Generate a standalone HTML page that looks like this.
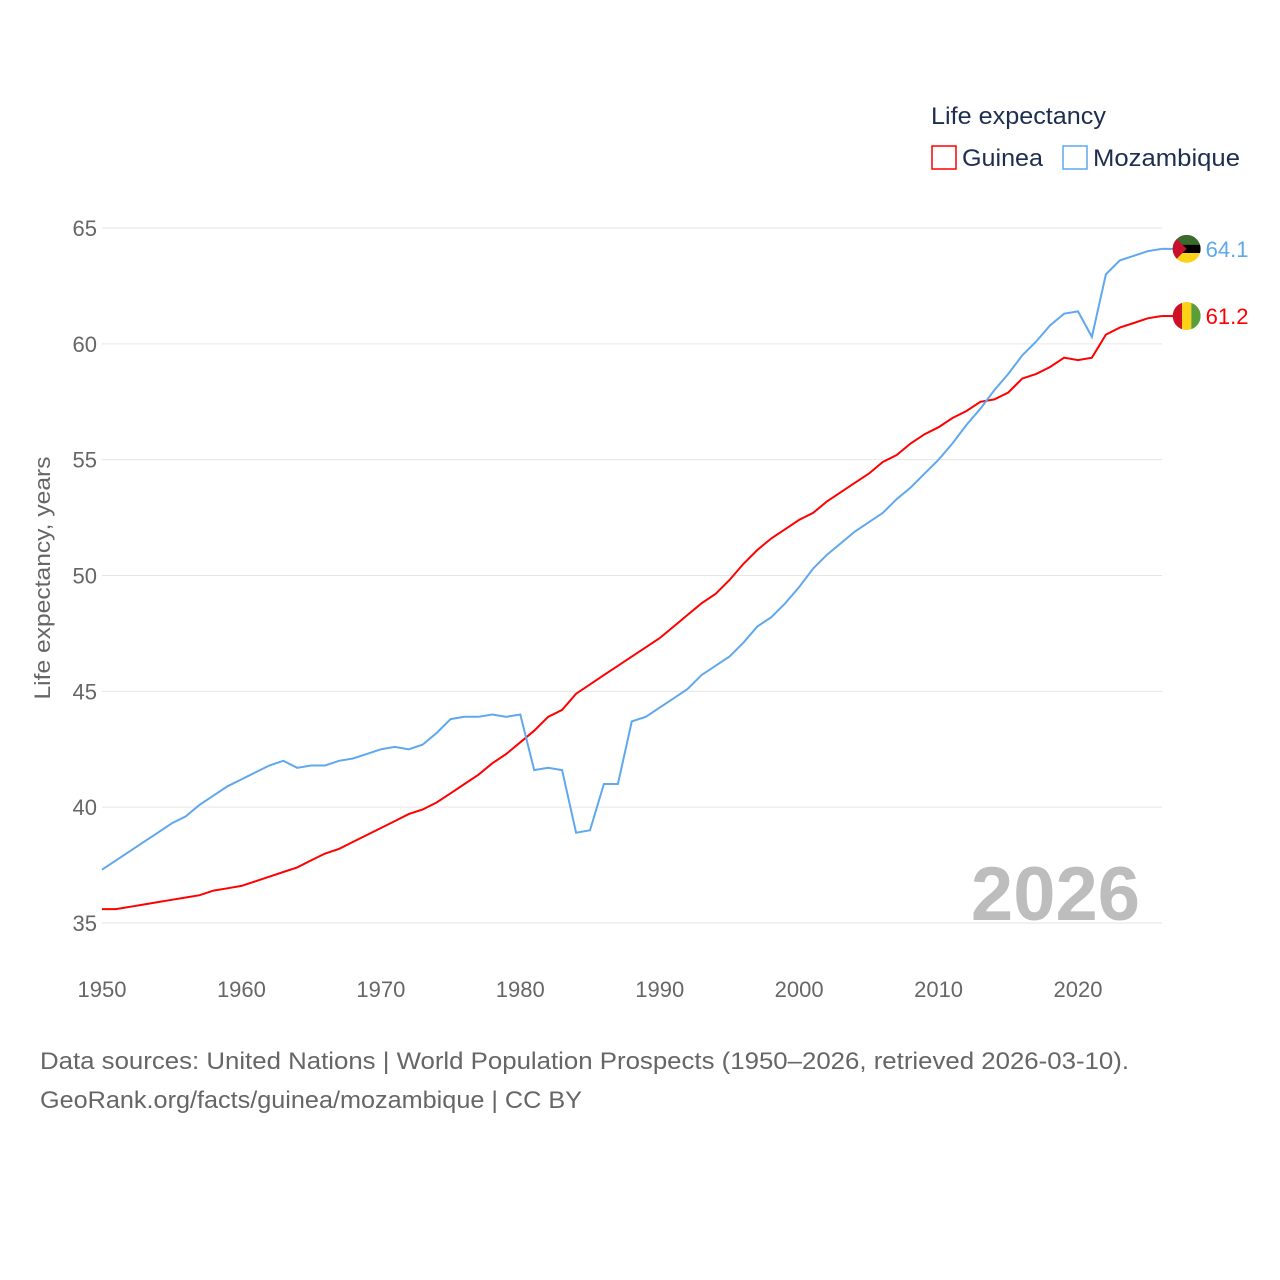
<!DOCTYPE html>
<html><head><meta charset="utf-8">
<style>
body{margin:0;background:#fff;font-family:"Liberation Sans",sans-serif;}
svg{display:block}
text{font-family:"Liberation Sans",sans-serif;}
</style></head>
<body>
<svg id="chart" width="1280" height="1280" viewBox="0 0 1280 1280">
<g id="grid"></g>
<g id="yt"></g>
<g id="xt"></g>
<text x="50" y="578" transform="rotate(-90 50 578)" text-anchor="middle" font-size="22" fill="#666" textLength="243" lengthAdjust="spacingAndGlyphs">Life expectancy, years</text>
<text x="1140" y="920" text-anchor="end" font-size="76" font-weight="bold" fill="#bdbdbd">2026</text>
<g id="lines"></g>
<g>
<text x="931" y="124" font-size="24" fill="#1d2e4e" textLength="175" lengthAdjust="spacingAndGlyphs">Life expectancy</text>
<g><rect x="932" y="146" width="24" height="23" fill="none" stroke="#ff0000" stroke-width="1.5"/><text x="962" y="166" font-size="24" fill="#1d2e4e" textLength="81" lengthAdjust="spacingAndGlyphs">Guinea</text></g>
<g><rect x="1063" y="146" width="24" height="23" fill="none" stroke="#5fa8ee" stroke-width="1.5"/><text x="1093" y="166" font-size="24" fill="#1d2e4e" textLength="147" lengthAdjust="spacingAndGlyphs">Mozambique</text></g>
</g>
<text x="40" y="1069" font-size="24" fill="#666" textLength="1089" lengthAdjust="spacingAndGlyphs">Data sources: United Nations | World Population Prospects (1950–2026, retrieved 2026-03-10).</text>
<text x="40" y="1108" font-size="24" fill="#666" textLength="542" lengthAdjust="spacingAndGlyphs">GeoRank.org/facts/guinea/mozambique | CC BY</text>
</svg>
<script>
const years=[];for(let y=1950;y<=2026;y++)years.push(y);
const guinea=[35.6,35.6,35.7,35.8,35.9,36.0,36.1,36.2,36.4,36.5,36.6,36.8,37.0,37.2,37.4,37.7,38.0,38.2,38.5,38.8,39.1,39.4,39.7,39.9,40.2,40.6,41.0,41.4,41.9,42.3,42.8,43.3,43.9,44.2,44.9,45.3,45.7,46.1,46.5,46.9,47.3,47.8,48.3,48.8,49.2,49.8,50.5,51.1,51.6,52.0,52.4,52.7,53.2,53.6,54.0,54.4,54.9,55.2,55.7,56.1,56.4,56.8,57.1,57.5,57.6,57.9,58.5,58.7,59.0,59.4,59.3,59.4,60.4,60.7,60.9,61.1,61.2];
const mozambique=[37.3,37.7,38.1,38.5,38.9,39.3,39.6,40.1,40.5,40.9,41.2,41.5,41.8,42.0,41.7,41.8,41.8,42.0,42.1,42.3,42.5,42.6,42.5,42.7,43.2,43.8,43.9,43.9,44.0,43.9,44.0,41.6,41.7,41.6,38.9,39.0,41.0,41.0,43.7,43.9,44.3,44.7,45.1,45.7,46.1,46.5,47.1,47.8,48.2,48.8,49.5,50.3,50.9,51.4,51.9,52.3,52.7,53.3,53.8,54.4,55.0,55.7,56.5,57.2,58.0,58.7,59.5,60.1,60.8,61.3,61.4,60.3,63.0,63.6,63.8,64.0,64.1];
const yTicks=[35,40,45,50,55,60,65];
const xTicks=[1950,1960,1970,1980,1990,2000,2010,2020];
const NS='http://www.w3.org/2000/svg';
const X=y=>102+(y-1950)*(976/70);
const Y=v=>923-(v-35)*(695/30);
function el(t,a,p){const e=document.createElementNS(NS,t);for(const k in a)e.setAttribute(k,a[k]);p.appendChild(e);return e;}
const grid=document.getElementById('grid'),yt=document.getElementById('yt'),xt=document.getElementById('xt'),lines=document.getElementById('lines');
yTicks.forEach(v=>{
 const l=el('line',{x1:102,x2:1162,y1:Y(v),y2:Y(v),stroke:'#e6e6e6','stroke-width':1},grid);
 
 
 const t=el('text',{x:97,y:Y(v)+8,'text-anchor':'end','font-size':22,fill:'#666'},yt);t.textContent=v;
 
 
});
xTicks.forEach(v=>{
 const t=el('text',{x:X(v),y:997,'text-anchor':'middle','font-size':22,fill:'#666'},xt);t.textContent=v;
 
 
});
function series(vals,color,name,label,flag){
 const d=vals.map((v,i)=>(i?'L':'M')+X(years[i]).toFixed(1)+' '+Y(v).toFixed(1)).join(' ');
 const p=el('path',{d:d,fill:'none',stroke:color,'stroke-width':2},lines);
 
 
 const lx=X(years[years.length-1]),ly=Y(vals[vals.length-1]);
 const g=el('g',{},lines);
 
 
 el('line',{x1:lx,x2:lx+12,y1:ly,y2:ly,stroke:color,'stroke-width':2},g);
 const cx=lx+25,r=14;
 const cp=el('clipPath',{id:'c'+name},g);el('circle',{cx:cx,cy:ly,r:r},cp);
 const fg=el('g',{'clip-path':'url(#c'+name+')'},g);
 flag(fg,cx,ly,r);
 const t=el('text',{x:cx+19,y:ly+8,'font-size':22,fill:color},g);t.textContent=label;
 
 
}
series(guinea,'#ff0000','guinea',guinea[guinea.length-1].toFixed(1),(g,cx,cy,r)=>{
 el('rect',{x:cx-r,y:cy-r,width:r*2/3,height:2*r,fill:'#ce1126'},g);
 el('rect',{x:cx-r/3,y:cy-r,width:r*2/3,height:2*r,fill:'#fcd116'},g);
 el('rect',{x:cx+r/3,y:cy-r,width:r*2/3,height:2*r,fill:'#5a9e3a'},g);
});
series(mozambique,'#5fa8ee','mozambique',mozambique[mozambique.length-1].toFixed(1),(g,cx,cy,r)=>{
 el('rect',{x:cx-r,y:cy-r,width:2*r,height:r*0.7,fill:'#3a6b2a'},g);
 el('rect',{x:cx-r,y:cy-r*0.3,width:2*r,height:r*0.6,fill:'#000'},g);
 el('rect',{x:cx-r,y:cy+r*0.3,width:2*r,height:r*0.7,fill:'#fcd116'},g);
 el('polygon',{points:(cx-r)+','+(cy-r)+' '+(cx)+','+cy+' '+(cx-r)+','+(cy+r),fill:'#c8102e'},g);
});
</script>
</body></html>
